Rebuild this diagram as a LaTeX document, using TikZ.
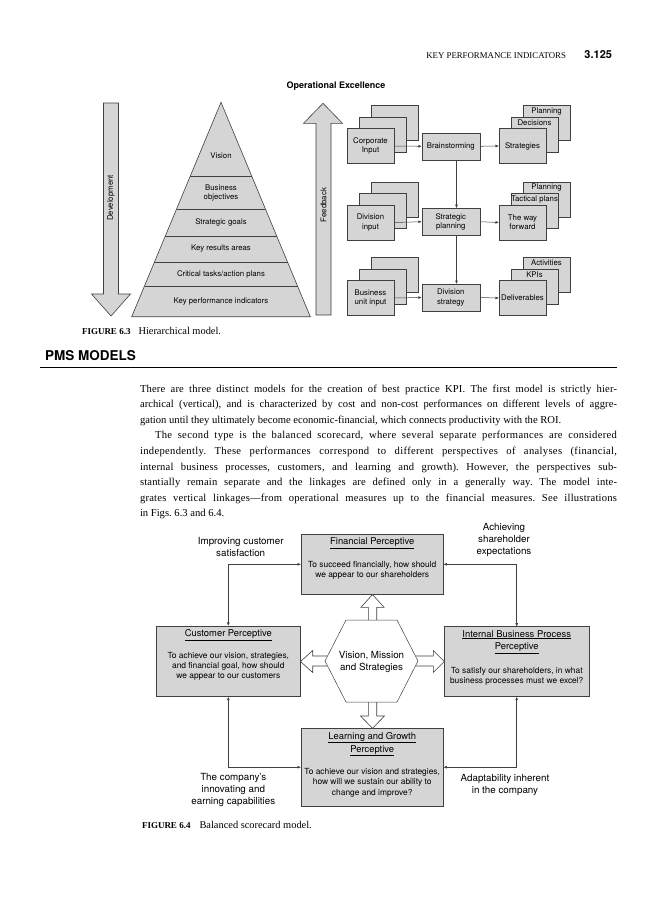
\documentclass[tikz,border=0pt]{standalone}
\usepackage{fontspec}
\setmainfont{Liberation Serif}
\setsansfont{TeX Gyre Heros}
\usetikzlibrary{arrows.meta}
\definecolor{boxgray}{HTML}{D5D5D5}
\definecolor{linec}{HTML}{404040}
\frenchspacing
\newcommand{\lsp}[1]{\addfontfeatures{LetterSpace=#1}}
\begin{document}
\begin{tikzpicture}[x=1pt,y=-1pt,
  every node/.style={inner sep=0pt, outer sep=0pt},
  gbox/.style={draw=linec, fill=boxgray, line width=0.6pt},
  t63/.style={font=\sffamily\fontsize{7.8}{9.4}\selectfont, align=center},
  inbox/.style={gbox, minimum width=47pt, minimum height=35pt},
  midbox/.style={gbox, minimum width=58pt, minimum height=27pt, t63},
  arr/.style={draw=linec, line width=0.5pt, -{Latex[length=3.5pt,width=2.8pt]}},
  darr/.style={draw=linec, line width=0.5pt, {Latex[length=3.5pt,width=2.8pt]}-{Latex[length=3.5pt,width=2.8pt]}},
  blockarr/.style={draw=linec, line width=0.6pt, fill=boxgray},
  hollow/.style={draw=linec, line width=0.6pt, fill=white},
  bodyl/.style={anchor=base west, font=\fontsize{10.6}{12}\selectfont},
  ttl/.style={font=\sffamily\fontsize{9.4}{12.6}\selectfont, align=center},
  tbody/.style={font=\sffamily\fontsize{8.4}{10.2}\selectfont, align=center},
  lbl/.style={font=\sffamily\fontsize{9.8}{12}\selectfont, align=center},
  bbox/.style={gbox},
  capl/.style={anchor=base west, font=\fontsize{10.4}{12}\selectfont},
]
\useasboundingbox (0,0) rectangle (662,900);
\fill[white] (0,0) rectangle (662,900);

% header
\node[anchor=base east, font=\fontsize{8.8}{10}\selectfont] (hdr) at (566,58) {KEY PERFORMANCE INDICATORS};
\node[anchor=base east, font=\sffamily\bfseries\fontsize{11}{12}\selectfont] (pg) at (612,58) {3.125};

% ===== Figure 6.3 =====
\node[anchor=base, font=\sffamily\bfseries\fontsize{9}{10}\selectfont] (opex) at (336,88) {Operational Excellence};

% development arrow
\path[blockarr] (103.5,103) -- (118.5,103) -- (118.5,294) -- (130.5,294) -- (111,316) -- (91.5,294) -- (103.5,294) -- cycle;
\node[t63, rotate=90] (dev) at (111,198) {Development};

% pyramid
\path[blockarr] (221,102.3) -- (310.3,316.7) -- (131.7,316.7) -- cycle;
\foreach \ya/\xa/\xb in {176/190.3/251.7, 209/176.6/265.4, 236/165.3/276.7, 262.7/154.2/287.8, 286/144.5/297.5}
  \draw[linec, line width=0.6pt] (\xa,\ya) -- (\xb,\ya);
\node[t63] (pv) at (221,156) {Vision};
\node[t63] (pbo) at (221,193) {Business\\objectives};
\node[t63] (psg) at (221,222) {Strategic goals};
\node[t63] (pkr) at (221,249) {Key results areas};
\node[t63] (pct) at (221,274) {Critical tasks/action plans};
\node[t63] (pkp) at (221,301) {Key performance indicators};

% feedback arrow
\path[blockarr] (316,315) -- (331,315) -- (331,123.3) -- (342.5,123.3) -- (323,103.3) -- (303.5,123.3) -- (316,123.3) -- cycle;
\node[t63, rotate=90] (fb) at (323.5,205) {Feedback};

% input stacks
\foreach \r/\n/\t in {146/ci/{Corporate\\Input}, 222.5/di/{Division\\input}, 298/bi/{Business\\unit input}} {
  \node[inbox] (\n3) at (394.5,\r-23) {};
  \node[inbox] (\n2) at (382.5,\r-11.5) {};
  \node[inbox, t63] (\n) at (370.5,\r) {\t};
}
% middle boxes
\node[midbox] (bs) at (450.8,146.3) {Brainstorming};
\node[midbox] (sp) at (450.8,221.7) {Strategic\\planning};
\node[midbox] (ds) at (450.8,297.5) {Division\\strategy};

% output stacks
\foreach \r/\n/\ta/\tb/\tc in {146/st/Strategies/Decisions/Planning, 222.5/wf/{The way\\forward}/Tactical plans/Planning, 298/dl/Deliverables/KPIs/Activities} {
  \node[inbox] (\n3) at (546.5,\r-23) {};
  \node[t63, anchor=north] (\n3t) at ([yshift=-2.3pt]\n3.north) {\tc};
  \node[inbox] (\n2) at (534.5,\r-11.5) {};
  \node[t63, anchor=north] (\n2t) at ([yshift=-2.8pt]\n2.north) {\tb};
  \node[inbox, t63] (\n) at (522.5,\r) {\ta};
}

% connectors fig 6.3
\coordinate (vx) at (456.5,0);
\draw[arr] (ci.east) -- (bs.west);
\draw[arr] (di.east) -- (sp.west);
\draw[arr] (bi.east) -- (ds.west);
\draw[arr] (bs.east) -- (st.west);
\draw[arr] (sp.east) -- (wf.west);
\draw[arr] (ds.east) -- (dl.west);
\draw[arr] (bs.south -| vx) -- (sp.north -| vx);
\draw[arr] (sp.south -| vx) -- (ds.north -| vx);

% caption 6.3
\node[capl] (cap3) at (82,334) {{\bfseries\fontsize{9}{10}\selectfont FIGURE 6.3}\hspace{8pt}Hierarchical model.};

% ===== section heading =====
\node[anchor=base west, font=\sffamily\bfseries\fontsize{13.5}{15}\selectfont] (pms) at (45,360.7) {PMS MODELS};
\draw[black, line width=0.8pt] (40,367) -- (617,367);

% body text
\node[bodyl] (l1) at (140,392) {\lsp{1.5}\makebox[477pt][s]{There are three distinct models for the creation of best practice KPI. The first model is strictly hier-}};
\node[bodyl] (l2) at (140,407.6) {\lsp{0.5}\makebox[477pt][s]{archical (vertical), and is characterized by cost and non-cost performances on different levels of aggre-}};
\node[bodyl] (l3) at (140,423.2) {gation until they ultimately become economic-financial, which connects productivity with the ROI.};
\node[bodyl] (l4) at (155,438.8) {\lsp{3}\makebox[462pt][s]{The second type is the balanced scorecard, where several separate performances are considered}};
\node[bodyl] (l5) at (140,454.4) {\lsp{3}\makebox[477pt][s]{independently. These performances correspond to different perspectives of analyses (financial,}};
\node[bodyl] (l6) at (140,470) {\lsp{1.5}\makebox[477pt][s]{internal business processes, customers, and learning and growth). However, the perspectives sub-}};
\node[bodyl] (l7) at (140,485.6) {\lsp{1.5}\makebox[477pt][s]{stantially remain separate and the linkages are defined only in a generally way. The model inte-}};
\node[bodyl] (l8) at (140,501.2) {\lsp{2}\makebox[477pt][s]{grates vertical linkages---from operational measures up to the financial measures. See illustrations}};
\node[bodyl] (l9) at (140,516.8) {in Figs. 6.3 and 6.4.};

% ===== Figure 6.4 =====
\node[bbox, minimum width=142.3pt, minimum height=60pt] (fin) at (372.2,564.3) {};
\node[ttl] (fint) at (372.2,543.3) {\underline{Financial Perceptive}};
\node[tbody] (finb) at (372.2,570) {To succeed financially, how should\\we appear to our shareholders};

\node[bbox, minimum width=143.3pt, minimum height=70.7pt] (cust) at (228.3,661.3) {};
\node[ttl] (custt) at (228.3,635) {\underline{Customer Perceptive}};
\node[tbody] (custb) at (228.3,666.5) {To achieve our vision, strategies,\\and financial goal, how should\\we appear to our customers};

\node[bbox, minimum width=145.3pt, minimum height=70pt] (ibp) at (516.7,661.7) {};
\node[ttl] (ibpt) at (516.7,642) {\underline{Internal Business Process}\\\underline{Perceptive}};
\node[tbody] (ibpb) at (516.7,676.3) {To satisfy our shareholders, in what\\business processes must we excel?};

\node[bbox, minimum width=142.3pt, minimum height=77.7pt] (learn) at (372.2,767.2) {};
\node[ttl, font=\sffamily\fontsize{9.4}{13}\selectfont] (learnt) at (372.2,744.2) {\underline{Learning and Growth}\\\underline{Perceptive}};
\node[tbody] (learnb) at (372.2,782.7) {To achieve our vision and strategies,\\how will we sustain our ability to\\change and improve?};

% block arrows (hollow)
\path[hollow] (368.3,624) -- (368.3,607.3) -- (361,607.3) -- (372.5,594.5) -- (384,607.3) -- (376.7,607.3) -- (376.7,624) -- cycle;
\path[hollow] (368.3,698) -- (368.3,716) -- (360.5,716) -- (372.5,728.3) -- (384.5,716) -- (376.7,716) -- (376.7,698) -- cycle;
\path[hollow] (330,656) -- (312.7,656) -- (312.7,650.5) -- (300.5,661.5) -- (312.7,672.5) -- (312.7,666) -- (330,666) -- cycle;
\path[hollow] (413,656) -- (433.3,656) -- (433.3,650.5) -- (444.3,661.5) -- (433.3,672.5) -- (433.3,666) -- (413,666) -- cycle;

% hexagon
\path[draw=linec, line width=0.5pt, fill=white] (346,620) -- (397,620) -- (418,661) -- (397,702) -- (346,702) -- (325,661) -- cycle;
\node[lbl] (hex) at (371.5,661.5) {Vision, Mission\\and Strategies};

% connectors fig 6.4
\draw[darr] (cust.north) |- (fin.west);
\draw[darr] (fin.east) -| (ibp.north);
\draw[darr] (cust.south) |- (learn.west);
\draw[darr] (ibp.south) |- (learn.east);

% outside labels
\node[lbl] (lb1) at (240.7,546.7) {Improving customer\\satisfaction};
\node[lbl] (lb2) at (504,540.2) {Achieving\\shareholder\\expectations};
\node[lbl] (lb3) at (233.3,790.4) {The company's\\innovating and\\earning capabilities};
\node[lbl] (lb4) at (505,785) {Adaptability inherent\\in the company};

% caption 6.4
\node[capl] (cap4) at (142,828) {{\bfseries\fontsize{9}{10}\selectfont FIGURE 6.4}\hspace{9pt}Balanced scorecard model.};
\end{tikzpicture}
\end{document}
